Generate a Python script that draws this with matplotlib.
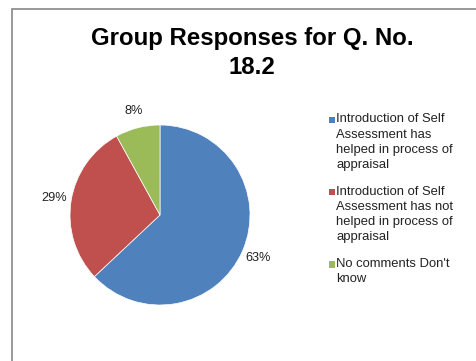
import matplotlib
matplotlib.use('Agg')
import matplotlib.pyplot as plt
from matplotlib.patches import Rectangle

plt.rcParams['font.family'] = ['Liberation Sans', 'DejaVu Sans']

# данные диаграммы
title = 'Group Responses for Q. No.\n18.2'
labels = ['Introduction of Self\nAssessment has\nhelped in process of\nappraisal',
          'Introduction of Self\nAssessment has not\nhelped in process of\nappraisal',
          'No comments Don\'t\nknow']
values = [63, 29, 8]
colors = ['#4F81BD', '#C0504D', '#9BBB59']

W, H = 476, 361
fig = plt.figure(figsize=(W / 100, H / 100), dpi=100)
fig.patch.set_facecolor('white')

# рамка диаграммы (видны только верх и левый край)
fig.add_artist(Rectangle((12 / W, -0.2), 1.2, 1.2 - 9 / H, transform=fig.transFigure,
                         fill=False, edgecolor='#888888', linewidth=1.2))

fig.text(252 / W, 1 - 26.5 / H, title, ha='center', va='top', fontsize=17.3,
         fontweight='bold', linespacing=1.35)

ax = fig.add_axes([70 / W, 1 - 305 / H, 180 / W, 180 / H])
wedges, texts, autotexts = ax.pie(values, colors=colors, startangle=90, counterclock=False,
                                  autopct='%1.0f%%', pctdistance=1.19,
                                  wedgeprops=dict(edgecolor='white', linewidth=0.5),
                                  textprops=dict(fontsize=9.2, color='#222222'))
ax.set_xlim(-1, 1)
ax.set_ylim(-1, 1)
ax.set_aspect('equal')
ax.axis('off')

# легенда вручную: маркер выровнен по первой строке
y0 = 123
step = 72.3
for i, (lab, col) in enumerate(zip(labels, colors)):
    yb = y0 + i * step
    fig.add_artist(Rectangle((328.5 / W, 1 - yb / H), 6.5 / W, 6.5 / H,
                             transform=fig.transFigure, facecolor=col, edgecolor='none'))
    fig.text(336.5 / W, 1 - (yb - 9.5) / H, lab, ha='left', va='top', fontsize=9.4,
             linespacing=1.35, color='#222222')

fig.savefig('out.png', dpi=100)
